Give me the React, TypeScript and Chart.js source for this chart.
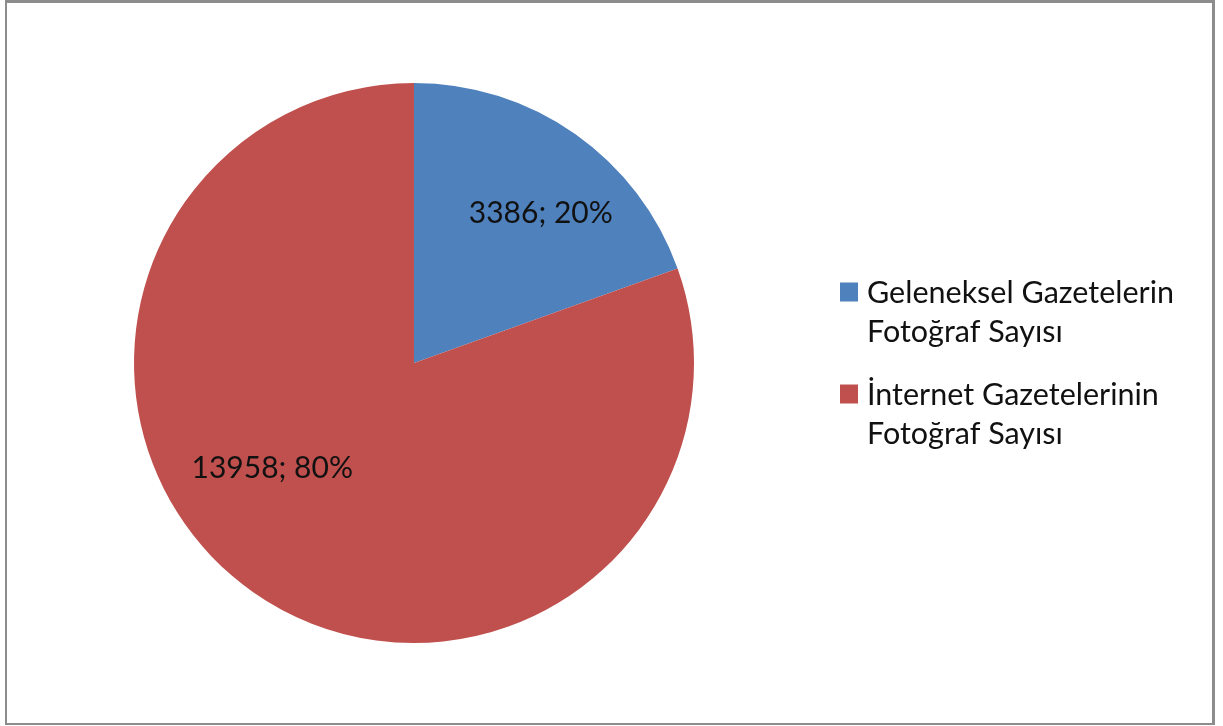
import React, { useEffect, useRef } from "react";
import { Chart, registerables } from "chart.js";

Chart.register(...registerables);

const categories: string[][] = [
  ["Geleneksel Gazetelerin", "Fotoğraf Sayısı"],
  ["İnternet Gazetelerinin", "Fotoğraf Sayısı"],
];
const values: number[] = [3386, 13958];
const percentLabels: string[] = ["20%", "80%"];
const colors: string[] = ["#4F81BD", "#C0504D"];

const FONT = "Lato, 'Open Sans', sans-serif";
const FONT_SIZE = 30;
const LEGEND_FONT_SIZE = 30.5;

const labelPlacement = [
  { angleShift: 0.09, radius: 0.7 },
  { angleShift: 0.32, radius: 0.63 },
];

const dataLabelPlugin = {
  id: "dataLabels",
  afterDatasetsDraw(chart: any) {
    const ctx = chart.ctx;
    const meta = chart.getDatasetMeta(0);
    ctx.save();
    ctx.font = `${FONT_SIZE}px ${FONT}`;
    ctx.fillStyle = "#111";
    ctx.textAlign = "center";
    ctx.textBaseline = "middle";
    meta.data.forEach((arc: any, i: number) => {
      const p = arc.getProps(["x", "y", "startAngle", "endAngle", "outerRadius"], true);
      const mid = (p.startAngle + p.endAngle) / 2 + labelPlacement[i].angleShift;
      const r = p.outerRadius * labelPlacement[i].radius;
      const x = p.x + Math.cos(mid) * r;
      const y = p.y + Math.sin(mid) * r;
      ctx.fillText(`${values[i]}; ${percentLabels[i]}`, x, y);
    });
    ctx.restore();
  },
};

const legendPlugin = {
  id: "customLegend",
  afterDraw(chart: any) {
    const ctx = chart.ctx;
    const labels = chart.data.labels as string[][];
    const bg = chart.data.datasets[0].backgroundColor as string[];
    const boxX = 840;
    const textX = 867;
    const lineH = 39.5;
    const itemGap = 102;
    const top = 292;
    ctx.save();
    ctx.font = `${LEGEND_FONT_SIZE}px ${FONT}`;
    ctx.textBaseline = "middle";
    ctx.textAlign = "left";
    labels.forEach((lines, i) => {
      const y0 = top + i * itemGap;
      ctx.fillStyle = bg[i];
      ctx.fillRect(boxX, y0 - 9.5, 18, 19);
      ctx.fillStyle = "#111";
      lines.forEach((line, j) => {
        ctx.fillText(line, textX, y0 + j * lineH + 1);
      });
    });
    ctx.restore();
  },
};

export default function App() {
  const canvasRef = useRef<HTMLCanvasElement | null>(null);

  useEffect(() => {
    if (!canvasRef.current) return;
    const chart = new Chart(canvasRef.current, {
      type: "pie",
      data: {
        labels: categories,
        datasets: [
          {
            data: values,
            backgroundColor: colors,
            borderWidth: 0,
          },
        ],
      },
      options: {
        animation: false,
        responsive: true,
        maintainAspectRatio: false,
        layout: { padding: { left: 134, top: 83, right: 529, bottom: 83 } },
        plugins: {
          legend: { display: false },
          tooltip: { enabled: false },
        },
      },
      plugins: [dataLabelPlugin, legendPlugin],
    });
    return () => chart.destroy();
  }, []);

  return (
    <div
      style={{
        position: "fixed",
        left: 0,
        top: 0,
        width: 1223,
        height: 726,
        background: "#fff",
      }}
    >
      <div
        style={{
          position: "absolute",
          left: 5,
          top: 0,
          width: 1205,
          height: 720,
          borderStyle: "solid",
          borderColor: "#8c8c8c",
          borderWidth: "3px 3px 2px 2px",
          boxSizing: "content-box",
        }}
      />
      <div style={{ position: "absolute", left: 0, top: 0, width: 1223, height: 726 }}>
        <canvas ref={canvasRef} />
      </div>
    </div>
  );
}
